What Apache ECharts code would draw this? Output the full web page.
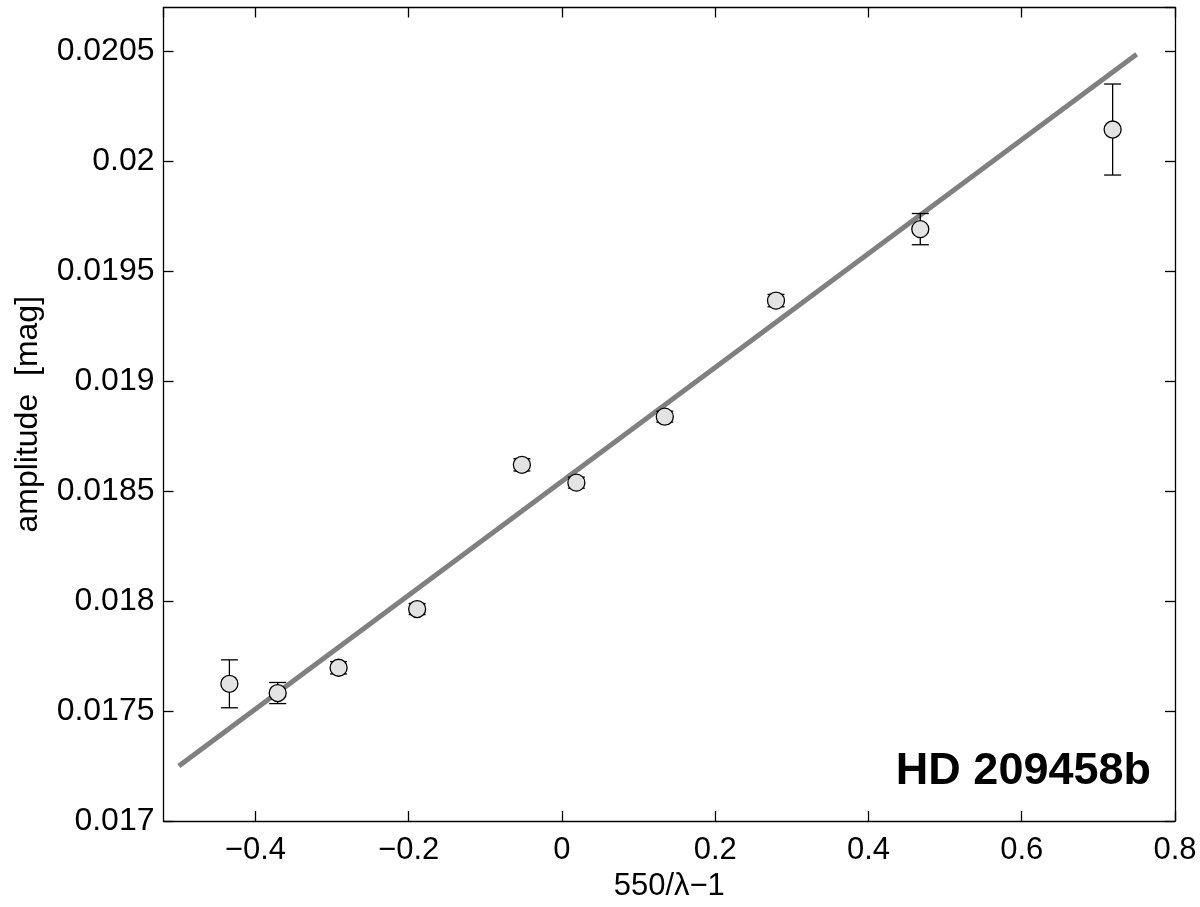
<!DOCTYPE html>
<html>
<head>
<meta charset="utf-8">
<script src="https://cdn.jsdelivr.net/npm/echarts@6/dist/echarts.min.js"></script>
<style>
html,body{margin:0;padding:0;background:#fff;}
#chart{width:1200px;height:907px;}
</style>
</head>
<body>
<div id="chart"></div>
<script>
// Data
const xValues = [-0.434, -0.371, -0.2915, -0.189, -0.0523, 0.0188, 0.1342, 0.2793, 0.4676, 0.7186];
const yValues = [0.017624, 0.017582, 0.017697, 0.017964, 0.018620, 0.018539, 0.018839, 0.019367, 0.019692, 0.020145];
const yErr    = [0.000109, 0.000048, 0.000028, 0.000025, 0.000028, 0.000025, 0.000025, 0.000028, 0.000071, 0.000207];
const fitX = [-0.5, 0.75];
const fitY = [0.01725, 0.020487];
const xTitle = '550/λ−1';
const yTitle = 'amplitude  [mag]';
const annotation = 'HD 209458b';

const FONT = '"Liberation Sans", Arial, Helvetica, sans-serif';

const points = xValues.map((x, i) => [x, yValues[i]]);
const errData = xValues.map((x, i) => [x, yValues[i] - yErr[i], yValues[i] + yErr[i]]);

const chart = echarts.init(document.getElementById('chart'));

const axisLineStyle = {show: true, onZero: false, lineStyle: {color: '#000', width: 1.3}};
const tickStyle = {show: true, inside: true, length: 10, lineStyle: {color: '#000', width: 1.3}};

const xCommon = {
  type: 'value', min: -0.52, max: 0.8, minInterval: 0.2, maxInterval: 0.2, splitNumber: 6,
  splitLine: {show: false}, axisLine: axisLineStyle, axisTick: tickStyle
};
const yCommon = {
  type: 'value', min: 0.017, max: 0.0207, interval: 0.0005,
  splitLine: {show: false}, axisLine: axisLineStyle, axisTick: tickStyle
};

chart.setOption({
  animation: false,
  backgroundColor: '#fff',
  grid: {left: 163.5, right: 25, top: 7.5, bottom: 80, containLabel: false},
  xAxis: [
    Object.assign({}, xCommon, {
      position: 'bottom',
      name: xTitle, nameLocation: 'middle', nameGap: 50,
      nameTextStyle: {fontFamily: FONT, fontSize: 31, color: '#000'},
      axisLabel: {
        show: true, margin: 14, fontFamily: FONT, fontSize: 31, color: '#000',
        showMinLabel: false,
        formatter: v => String(Math.round(v * 10) / 10).replace('-', '−')
      }
    }),
    Object.assign({}, xCommon, {position: 'top', axisLabel: {show: false}})
  ],
  yAxis: [
    Object.assign({}, yCommon, {
      position: 'left',
      name: yTitle, nameLocation: 'middle', nameGap: 119,
      nameTextStyle: {fontFamily: FONT, fontSize: 32, color: '#000'},
      axisLabel: {
        show: true, margin: 9, fontFamily: FONT, fontSize: 32, color: '#000',
        showMaxLabel: false,
        formatter: v => String(Math.round(v * 1e5) / 1e5)
      }
    }),
    Object.assign({}, yCommon, {position: 'right', axisLabel: {show: false}})
  ],
  series: [
    {
      type: 'line', xAxisIndex: 0, yAxisIndex: 0,
      data: [[fitX[0], fitY[0]], [fitX[1], fitY[1]]],
      showSymbol: false, symbol: 'none',
      lineStyle: {color: '#808080', width: 5}, z: 2, silent: true
    },
    {
      type: 'custom', xAxisIndex: 0, yAxisIndex: 0,
      data: errData, z: 3, silent: true,
      renderItem: function (params, api) {
        const x = api.value(0);
        const lo = api.coord([x, api.value(1)]);
        const hi = api.coord([x, api.value(2)]);
        const hw = 8.5;
        const style = {stroke: '#000', lineWidth: 1.3, fill: null};
        return {
          type: 'group',
          children: [
            {type: 'line', shape: {x1: lo[0], y1: lo[1], x2: hi[0], y2: hi[1]}, style: style},
            {type: 'line', shape: {x1: lo[0] - hw, y1: lo[1], x2: lo[0] + hw, y2: lo[1]}, style: style},
            {type: 'line', shape: {x1: hi[0] - hw, y1: hi[1], x2: hi[0] + hw, y2: hi[1]}, style: style}
          ]
        };
      }
    },
    {
      type: 'scatter', xAxisIndex: 0, yAxisIndex: 0,
      data: points, symbol: 'circle', symbolSize: 17, z: 4,
      itemStyle: {color: '#e3e3e3', borderColor: '#000', borderWidth: 1.3, opacity: 1}
    }
  ],
  graphic: [
    {
      type: 'text', right: 49, top: 749, z: 10,
      style: {text: annotation, fontFamily: FONT, fontSize: 45, fontWeight: 'bold', fill: '#000'}
    }
  ]
});
</script>
</body>
</html>
